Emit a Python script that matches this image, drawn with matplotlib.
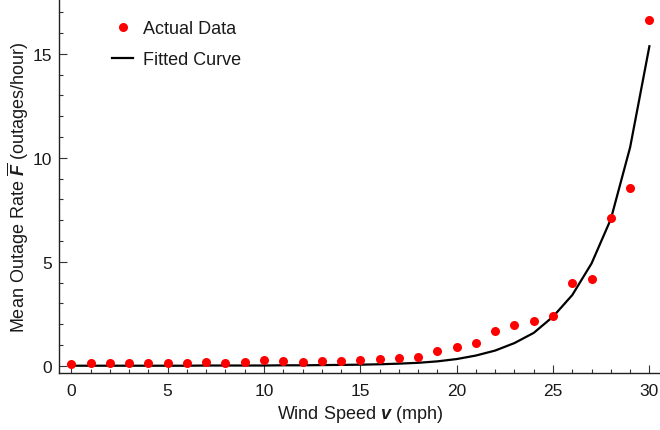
import matplotlib
matplotlib.use("Agg")
import matplotlib.pyplot as plt
from matplotlib.ticker import MultipleLocator

plt.rcParams['font.family'] = ['Liberation Sans', 'DejaVu Sans']
plt.rcParams['mathtext.fontset'] = 'custom'
plt.rcParams['mathtext.rm'] = 'Liberation Sans'
plt.rcParams['mathtext.it'] = 'Liberation Sans:bold:italic'
plt.rcParams['mathtext.bf'] = 'Liberation Sans:bold'

wind_speed = list(range(0, 31))
actual_rate = [0.09, 0.13, 0.13, 0.13, 0.15, 0.14, 0.15, 0.16, 0.13, 0.16,
               0.27, 0.24, 0.20, 0.21, 0.24, 0.27, 0.34, 0.38, 0.43, 0.71,
               0.88, 1.09, 1.68, 1.96, 2.13, 2.37, 3.99, 4.15, 7.09, 8.54,
               16.63]
fitted_rate = [0.00, 0.00, 0.00, 0.00, 0.00, 0.00, 0.00, 0.01, 0.01, 0.01,
               0.01, 0.02, 0.02, 0.03, 0.04, 0.05, 0.07, 0.10, 0.14, 0.21,
               0.32, 0.49, 0.73, 1.09, 1.58, 2.36, 3.40, 4.92, 7.05, 10.5,
               15.36]

W, H = 660, 431
fig = plt.figure(figsize=(W / 100, H / 100), dpi=100)
ax = fig.add_axes([59.3 / W, 57 / H, (660 - 59.3) / W, 374 / H])

ax.plot(wind_speed, fitted_rate, color='black', lw=1.6, label='Fitted Curve', zorder=2)
ax.plot(wind_speed, actual_rate, 'o', color='#ff0000', ms=6.5, mec='none',
        label='Actual Data', zorder=3)

ax.set_xlim(-0.62, 30.55)
ax.set_ylim(-0.35, 17.63)

ax.xaxis.set_major_locator(MultipleLocator(5))
ax.xaxis.set_minor_locator(MultipleLocator(1))
ax.yaxis.set_major_locator(MultipleLocator(5))
ax.yaxis.set_minor_locator(MultipleLocator(1))
ax.tick_params(which='both', direction='in', width=0.8, colors='#333333',
               labelcolor='#1a1a1a', labelsize=12.5)
ax.tick_params(which='major', length=5.5)
ax.tick_params(which='minor', length=3)
ax.tick_params(axis='x', which='major', pad=7)
ax.tick_params(axis='y', which='major', pad=5)

for s in ['top', 'right']:
    ax.spines[s].set_visible(False)
for s in ['left', 'bottom']:
    ax.spines[s].set_linewidth(1.0)
    ax.spines[s].set_color('#222222')

ax.set_xlabel(r'Wind Speed $v$ (mph)', fontsize=13, color='#1a1a1a', labelpad=4)
ax.set_ylabel(r'Mean Outage Rate $\overline{F}$ (outages/hour)', fontsize=13,
              color='#1a1a1a', labelpad=1)

handles, labels = ax.get_legend_handles_labels()
leg = ax.legend(handles[::-1], labels[::-1], loc='upper left',
                bbox_to_anchor=(111.7 / W, 1 - 21 / H), bbox_transform=fig.transFigure,
                frameon=False, fontsize=13, handlelength=1.2, handletextpad=0.55,
                labelspacing=0.8, borderpad=0, borderaxespad=0)
for t in leg.get_texts():
    t.set_color('#1a1a1a')

fig.savefig('out.png', dpi=100)
